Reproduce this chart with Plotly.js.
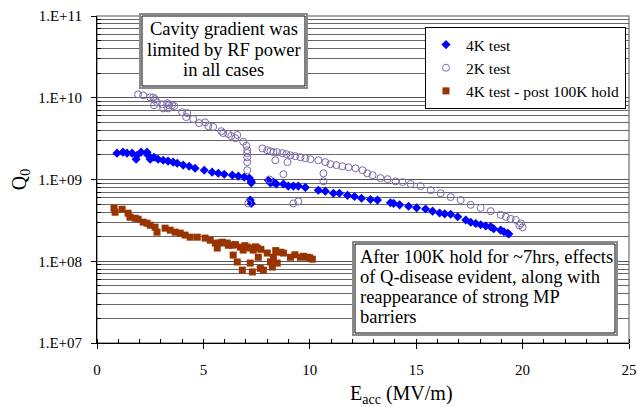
<!DOCTYPE html>
<html>
<head>
<meta charset="utf-8">
<script src="https://cdn.plot.ly/plotly-3.0.1.min.js"></script>
<style>
  html, body { margin: 0; padding: 0; background: #ffffff; }
  #chart { width: 644px; height: 407px; }
</style>
</head>
<body>
<div id="chart"></div>
<script>
// ---- Data ----
const seriesNames = ["4K test", "2K test", "4K test - post 100K hold"];

const eacc4K = [0.94, 1.22, 1.41, 1.65, 1.84, 1.88, 2.07, 2.35, 2.40, 2.50, 2.68, 2.87, 3.11, 3.34, 3.58, 3.77, 4.05, 4.33, 4.61, 5.04, 5.41, 5.70, 5.98, 6.36, 6.64, 6.92, 7.16, 7.25, 7.25, 7.20, 7.25,
  8.05, 8.15, 8.29, 8.43, 8.76, 8.99, 9.23, 9.46, 9.79, 10.40, 10.73, 11.11, 11.39, 11.77, 12.10, 12.43, 12.85, 13.18, 13.79, 13.94, 14.22, 14.64, 15.02, 15.44, 15.77, 16.10, 16.34, 16.62, 16.95, 17.33, 17.56, 17.80, 18.03, 18.27, 18.50, 18.64, 18.97, 19.12, 19.30, 19.35];
const q4K = [2.10e9, 2.16e9, 2.10e9, 2.10e9, 1.77e9, 1.98e9, 2.16e9, 2.16e9, 1.98e9, 1.77e9, 1.87e9, 1.77e9, 1.72e9, 1.68e9, 1.63e9, 1.58e9, 1.50e9, 1.45e9, 1.37e9, 1.30e9, 1.23e9, 1.19e9, 1.16e9, 1.13e9, 1.10e9, 1.07e9, 1.04e9, 9.5e8, 9.1e8, 5.6e8, 5.1e8,
  9.8e8, 9.1e8, 9.3e8, 8.8e8, 8.8e8, 8.3e8, 8.3e8, 8.3e8, 8.0e8, 7.4e8, 7.2e8, 6.8e8, 6.8e8, 6.4e8, 6.2e8, 5.9e8, 5.7e8, 5.6e8, 5.2e8, 5.1e8, 4.9e8, 4.7e8, 4.5e8, 4.35e8, 4.1e8, 3.9e8, 3.8e8, 3.75e8, 3.5e8, 3.2e8, 3.0e8, 2.9e8, 2.8e8, 2.7e8, 2.65e8, 2.5e8, 2.4e8, 2.3e8, 2.2e8, 2.15e8];

const eacc2K = [1.93, 2.17, 2.50, 2.64, 2.73, 2.82, 2.68, 3.06, 3.30, 3.39, 3.53, 3.63, 3.11, 3.34, 4.00, 4.24, 4.19, 4.52, 4.80, 5.08, 5.23, 5.46, 5.84, 5.93, 6.17, 6.31, 6.50, 6.59, 6.87, 7.02, 7.06, 7.06, 7.06, 7.06, 7.06,
  7.77, 8.00, 8.15, 8.29, 8.47, 8.71, 8.90, 9.09, 9.32, 9.56, 9.79, 10.03, 10.40, 10.73, 10.97, 11.25, 11.53, 11.82, 12.15, 12.48, 12.70, 12.95, 13.32, 13.65, 14.03, 14.36, 14.74, 15.21, 15.68, 16.15, 16.62, 17.09, 17.56, 18.03, 18.50, 18.97, 19.21, 19.44, 19.68, 19.85, 19.92, 20.00,
  8.38, 8.95, 8.10, 8.76, 10.64, 10.64, 9.23, 9.46, 7.11];
const q2K = [1.10e10, 1.07e10, 1.01e10, 1.01e10, 9.6e9, 8.8e9, 8.1e9, 8.3e9, 8.6e9, 8.1e9, 8.1e9, 7.9e9, 7.4e9, 7.4e9, 6.65e9, 6.5e9, 5.8e9, 5.5e9, 4.9e9, 5.0e9, 4.5e9, 4.4e9, 3.9e9, 3.7e9, 3.6e9, 3.4e9, 3.2e9, 3.5e9, 2.9e9, 2.6e9, 2.28e9, 2.1e9, 1.87e9, 1.63e9, 1.30e9,
  2.4e9, 2.28e9, 2.22e9, 2.16e9, 2.16e9, 2.10e9, 2.04e9, 1.98e9, 1.93e9, 1.87e9, 1.82e9, 1.77e9, 1.72e9, 1.63e9, 1.54e9, 1.50e9, 1.45e9, 1.41e9, 1.37e9, 1.30e9, 1.19e9, 1.13e9, 1.04e9, 1.01e9, 9.5e8, 9.3e8, 8.8e8, 8.3e8, 7.4e8, 6.8e8, 6.1e8, 5.6e8, 4.9e8, 4.5e8, 4.1e8, 3.7e8, 3.5e8, 3.3e8, 3.2e8, 2.75e8, 2.9e8, 2.6e8,
  1.72e9, 1.63e9, 1.0e9, 1.16e9, 1.19e9, 9.5e8, 5.1e8, 5.4e8, 5.1e8];

const eaccPost = [0.80, 0.85, 1.18, 1.46, 1.55, 1.79, 1.93, 2.17, 2.35, 2.50, 2.73, 2.82, 3.20, 3.44, 3.67, 3.91, 4.14, 4.38, 4.71, 5.08, 5.32, 5.56, 5.65, 5.79, 5.89, 6.12, 6.17, 6.36, 6.40, 6.50, 6.59, 6.73, 6.83, 6.87, 6.95, 7.06, 7.20, 7.20, 7.30, 7.34, 7.45, 7.53, 7.58, 7.67, 7.70, 7.82, 8.00, 8.15, 8.24, 8.29, 8.40, 8.47, 8.62, 8.76, 9.09, 9.30, 9.56, 9.70, 9.89, 10.00, 10.12];
const qPost = [4.46e8, 3.98e8, 4.33e8, 3.87e8, 3.46e8, 3.36e8, 3.27e8, 3.01e8, 2.92e8, 2.76e8, 2.61e8, 2.27e8, 2.54e8, 2.40e8, 2.27e8, 2.21e8, 2.09e8, 1.97e8, 1.97e8, 1.92e8, 1.81e8, 1.67e8, 1.45e8, 1.67e8, 1.71e8, 1.67e8, 1.57e8, 1.57e8, 1.19e8, 1.60e8, 9.8e7, 1.49e8, 7.8e7, 1.37e8, 1.55e8, 1.49e8, 1.45e8, 9.5e7, 7.4e7, 1.37e8, 1.50e8, 1.45e8, 1.12e8, 8.2e7, 1.40e8, 7.8e7, 1.26e8, 9.8e7, 8.5e7, 1.12e8, 1.35e8, 9.5e7, 1.29e8, 1.26e8, 1.12e8, 1.20e8, 1.12e8, 1.15e8, 1.12e8, 1.10e8, 1.06e8];

const yTickVals = [1e7, 1e8, 1e9, 1e10, 1e11];
const yTickText = ["1.E+07", "1.E+08", "1.E+09", "1.E+10", "1.E+11"];
const xTickVals = [0, 5, 10, 15, 20, 25];
const xTickText = ["0", "5", "10", "15", "20", "25"];

const note1Lines = ["Cavity gradient was", "limited by RF power", "in all cases"];
const note2Lines = ["After 100K hold for ~7hrs, effects", "of Q-disease evident, along with", "reappearance of strong MP", "barriers"];

// ---- Layout helpers (pixel -> paper) ----
const FONT = "Liberation Serif, 'Times New Roman', Times, serif";
const ML = 97, MR = 15, MT = 16, MB = 64;
const PW = 644 - ML - MR, PH = 407 - MT - MB;
const pxX = p => (p - ML) / PW;
const pxY = p => (MT + PH - p) / PH;

const minorY = [];
for (let e = 7; e < 11; e++) for (let m = 2; m <= 9; m++) minorY.push(m * Math.pow(10, e));

const traces = [
  { type: "scatter", mode: "markers", name: seriesNames[0], x: eacc4K, y: q4K,
    marker: { symbol: "diamond", size: 7, color: "#0000FF" } },
  { type: "scatter", mode: "markers", name: seriesNames[1], x: eacc2K, y: q2K,
    marker: { symbol: "circle-open", size: 7, color: "#7B68A8", line: { width: 1, color: "#7B68A8" } } },
  { type: "scatter", mode: "markers", name: seriesNames[2], x: eaccPost, y: qPost,
    marker: { symbol: "square", size: 7, color: "#993300" } }
];

const annotations = [];
const note1Centers = [29, 49.5, 70];
note1Lines.forEach((t, i) => annotations.push({
  xref: "paper", yref: "paper", x: pxX(223.5), y: pxY(note1Centers[i]),
  xanchor: "center", yanchor: "middle", showarrow: false, text: t,
  font: { family: FONT, size: 18.5, color: "#000" }
}));
const note2Centers = [257, 277, 297, 317];
note2Lines.forEach((t, i) => annotations.push({
  xref: "paper", yref: "paper", x: pxX(358), y: pxY(note2Centers[i]),
  xanchor: "left", yanchor: "middle", showarrow: false, text: t,
  font: { family: FONT, size: 18.5, color: "#000" }
}));
annotations.push({
  xref: "paper", yref: "paper", x: pxX(401.5), y: pxY(394),
  xanchor: "center", yanchor: "middle", showarrow: false,
  text: "E<sub>acc</sub> (MV/m)", font: { family: FONT, size: 20, color: "#000" }
});

function boxShapes(x0, y0, x1, y1) {
  return [
    { type: "rect", xref: "paper", yref: "paper", layer: "above",
      x0: pxX(x0), x1: pxX(x1), y0: pxY(y1), y1: pxY(y0),
      fillcolor: "#ffffff", line: { color: "#8a8a8a", width: 2 } },
    { type: "rect", xref: "paper", yref: "paper", layer: "above",
      x0: pxX(x0 + 2), x1: pxX(x1 - 2), y0: pxY(y1 - 2), y1: pxY(y0 + 2),
      line: { color: "#000000", width: 1 } }
  ];
}

const shapes = [
  { type: "rect", xref: "paper", yref: "paper", layer: "below", x0: 0, x1: 1, y0: 0, y1: 1,
    line: { color: "#8a8a8a", width: 1.5 } },
  ...boxShapes(140, 14, 307, 88),
  ...boxShapes(353, 242, 617, 335)
];

const layout = {
  width: 644, height: 407,
  margin: { l: ML, r: MR, t: MT, b: MB, pad: 0 },
  paper_bgcolor: "#ffffff", plot_bgcolor: "#ffffff",
  font: { family: FONT, size: 15, color: "#000" },
  showlegend: true,
  legend: {
    x: pxX(626), y: pxY(27), xanchor: "right", yanchor: "top",
    bgcolor: "#ffffff", bordercolor: "#000000", borderwidth: 1,
    font: { family: FONT, size: 15.5, color: "#000" }
  },
  xaxis: {
    type: "linear", range: [0, 25], autorange: false,
    tickmode: "array", tickvals: xTickVals, ticktext: xTickText,
    ticks: "outside", ticklen: 5, tickcolor: "#000", tickwidth: 1,
    showline: true, linecolor: "#000", linewidth: 1,
    showgrid: false, zeroline: false,
    tickfont: { family: FONT, size: 15, color: "#000" },
    ticklabelstandoff: 8,
    minor: { dtick: 1, ticks: "inside", ticklen: 4, tickcolor: "#000", showgrid: false }
  },
  yaxis: {
    type: "log", range: [7, 11], autorange: false,
    tickmode: "array", tickvals: yTickVals, ticktext: yTickText,
    ticks: "outside", ticklen: 5, tickcolor: "#000", tickwidth: 1,
    showline: true, linecolor: "#000", linewidth: 1,
    showgrid: true, gridcolor: "#555555", gridwidth: 1, zeroline: false,
    tickfont: { family: FONT, size: 15, color: "#000" },
    ticklabelstandoff: 6,
    minor: { tickmode: "array", tickvals: minorY, ticks: "inside", ticklen: 4, tickcolor: "#000",
             showgrid: true, gridcolor: "#666666", gridwidth: 1 },
    title: { text: "Q<sub>0</sub>", font: { family: FONT, size: 20, color: "#000" }, standoff: 6 }
  },
  shapes: shapes,
  annotations: annotations
};

Plotly.newPlot("chart", traces, layout, { displayModeBar: false, staticPlot: true });
</script>
</body>
</html>
